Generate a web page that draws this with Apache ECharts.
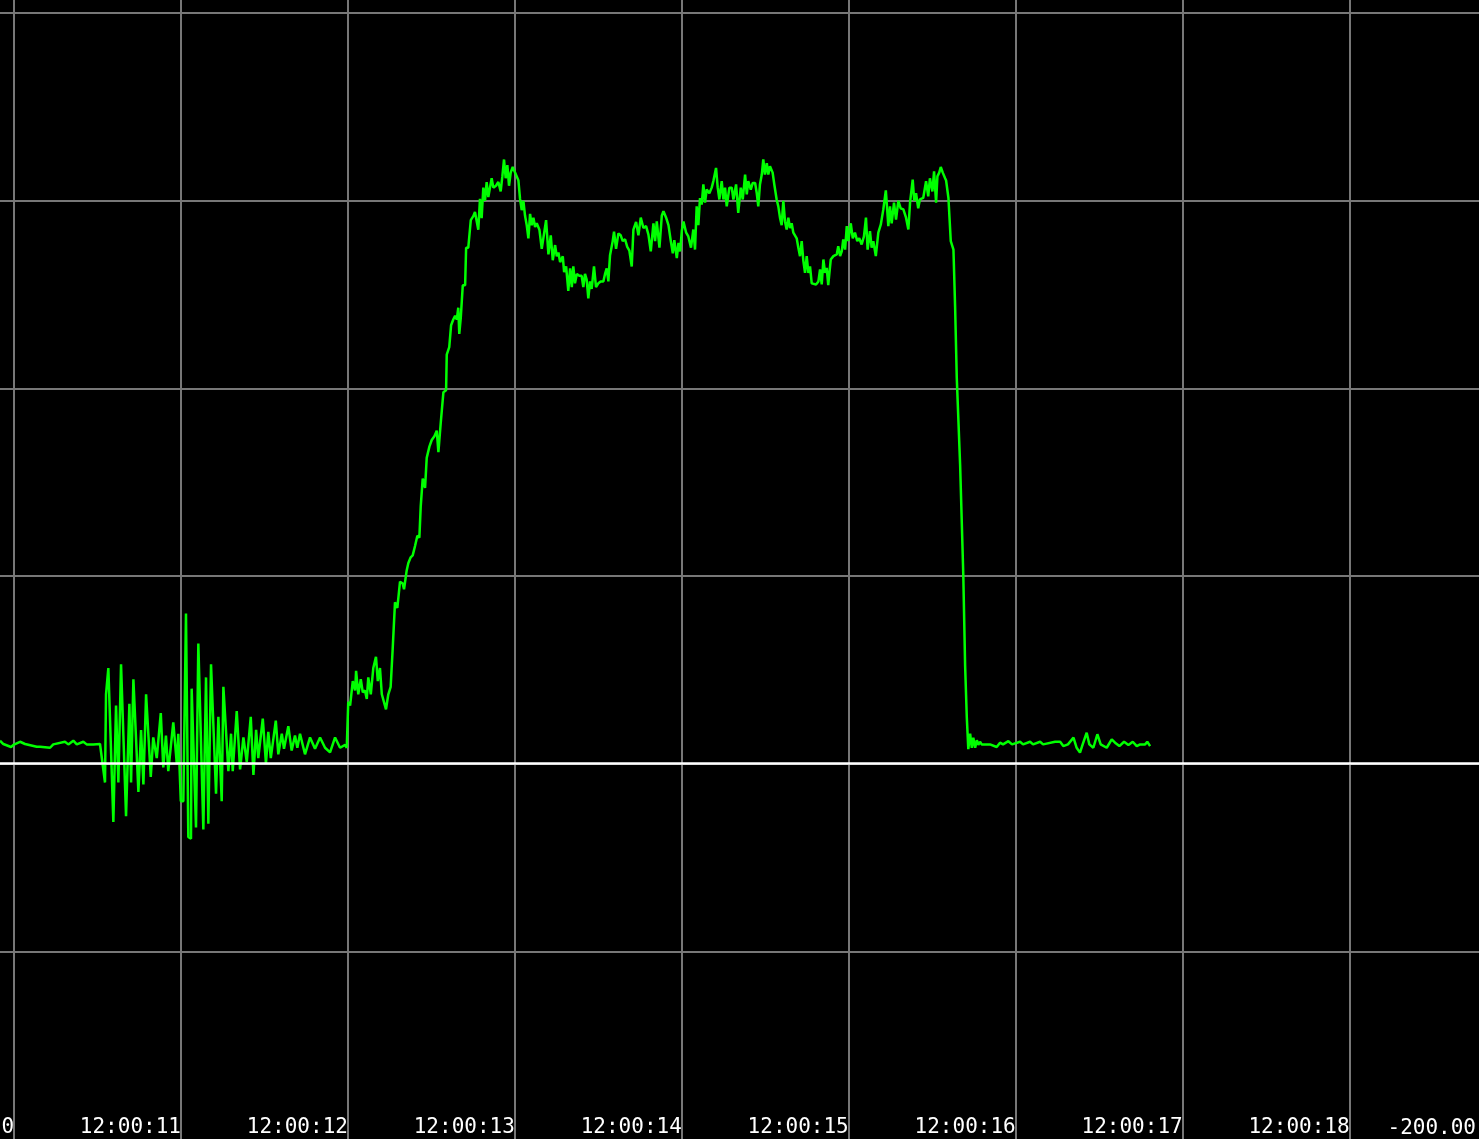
<!DOCTYPE html>
<html>
<head>
<meta charset="utf-8">
<script src="https://cdn.jsdelivr.net/npm/echarts@6/dist/echarts.min.js"></script>
<style>
html, body { margin: 0; padding: 0; background: #000; }
#chart { width: 1479px; height: 1139px; }
</style>
</head>
<body>
<div id="chart"></div>
<script>
// time origin of the capture: 12:00:10.000, samples are [ms after origin, value]
const startTime = new Date(2024, 0, 1, 12, 0, 10).getTime();
const viewStartMs = -84;
const viewEndMs = 8775;

const yMin = -200;
const yMax = 407;
const yStep = 100;

const preTrigger = [[-84,12.3],[-64,10.5],[-18,8.9],[-4,10],[36,11.7],[66,10.5],[136,9],[156,9],[216,8.5],[235,10.3],[305,11.7],[325,10.3],[355,12.3],[376,10.3],[415,11.7],[435,10.3],[475,10.3],[515,10.5],[525,10]];

const burst = [[545,-10],[551,37],[565,51],[595,-31],[611,31],[625,-10],[641,53],[671,-28],[691,32],[701,-10],[715,45],[745,-15],[761,18],[775,-11],[791,37],[819,-7],[834,14],[855,3],[879,27],[894,-2],[910,15],[924,-4],[954,22],[975,0],[984,16],[999,-20],[1014,-20],[1030,80],[1044,-39],[1060,-40],[1064,40],[1090,-34],[1104,64],[1134,-35],[1150,46],[1164,-32],[1180,53],[1210,-16],[1224,25],[1244,-20],[1254,41],[1284,-4],[1300,16],[1310,-4],[1334,28],[1354,-3],[1374,14],[1394,1],[1418,25],[1434,-6],[1450,18],[1463,3],[1490,24],[1509,0],[1523,17],[1538,3],[1568,23],[1583,5],[1604,16],[1617,8],[1643,20],[1663,7],[1683,15],[1697,8.5],[1713,16],[1743,5],[1773,14],[1803,8],[1833,14],[1863,8.5],[1893,6],[1923,14],[1953,8.5],[1983,10],[1993,8.5]];

const ramp = [[2002,33],[2013,31],[2029,44],[2043,39],[2049,49.5],[2062,37],[2077,45],[2089,38],[2102,39],[2113,34.5],[2122,46],[2137,37],[2152,51],[2168,57],[2179,44],[2192,51],[2203,37],[2212,37],[2228,29],[2242,37],[2256,41],[2268,61],[2282,86],[2296,83],[2312,97],[2328,96],[2336,93],[2352,103],[2362,107],[2376,110],[2388,111],[2402,116],[2416,121.5],[2428,120.5],[2436,137],[2448,152],[2462,147],[2472,163],[2488,169],[2502,172.5],[2518,174.5],[2532,177.5],[2542,166],[2556,181.7],[2572,198],[2588,199],[2592,218],[2607,222],[2618,233.7],[2631,236.7],[2642,238.7],[2652,236.7],[2661,243],[2667,229],[2676,237.7],[2688,255],[2702,255],[2708,275],[2721,275],[2736,289.7],[2751,291.8],[2761,294],[2771,294],[2781,284.6],[2791,301],[2801,290.7],[2811,307],[2821,300],[2831,310],[2841,302],[2851,307],[2861,312],[2871,307],[2887,308],[2901,310],[2915,305],[2925,313],[2935,322],[2945,312],[2955,319],[2965,308],[2975,315],[2987,318],[3001,315],[3021,311]];

const plateau = [[3031,301],[3041,295],[3051,300],[3061,292],[3071,287],[3081,280],[3091,293],[3101,287],[3111,291],[3121,286],[3131,288],[3147,284.6],[3161,274.4],[3175,282.6],[3187,289.7],[3201,271.4],[3215,281.6],[3227,268.3],[3241,276.4],[3251,270.4],[3261,272.4],[3271,267.3],[3287,270.4],[3295,262],[3307,265],[3320,252],[3331,264],[3341,254],[3350,265],[3360,256],[3371,261],[3386,260],[3400,260],[3410,254],[3420,261],[3430,258],[3440,248],[3450,257],[3460,253],[3474,265],[3486,254],[3500,256],[3514,257],[3530,257],[3540,261],[3550,264],[3560,257],[3570,271],[3586,278.5],[3594,283.6],[3606,274.4],[3620,282.6],[3634,281.6],[3646,278.5],[3660,279.5],[3673,275.4],[3686,273.4],[3700,265],[3710,284.6],[3726,288.7],[3740,281.6],[3754,291],[3770,285.5],[3786,286.5],[3800,282],[3814,273],[3830,288],[3840,278.5],[3850,289],[3866,275],[3880,292],[3890,294.5],[3906,291],[3920,287],[3934,278.5],[3946,272],[3955,279],[3970,269.5],[3980,277.5],[3990,273],[4000,284],[4010,289],[4026,283],[4039,281],[4055,275],[4069,284.7],[4079,274],[4089,297],[4099,287],[4109,301.5],[4119,298],[4129,308.7],[4139,299],[4149,306],[4165,304],[4179,307],[4189,310.5],[4205,317.5],[4215,307],[4225,300.7],[4239,310.5],[4249,300.7],[4259,307],[4269,297],[4285,307],[4299,307],[4309,300.7],[4325,308.7],[4338,293.5],[4353,307],[4365,300.7],[4379,314],[4389,303.4],[4398,310.5],[4413,306],[4425,309.5],[4439,309.5],[4449,304],[4458,297],[4468,308.7],[4479,314],[4488,322],[4498,314],[4509,320],[4518,314],[4528,318.4],[4544,315],[4554,308.7],[4568,300.7],[4578,297],[4588,291],[4598,287],[4608,300],[4618,289],[4628,284.7],[4638,291],[4648,285.5],[4658,288],[4668,283],[4678,282],[4688,280],[4698,275],[4708,270.5],[4718,278.5],[4728,268],[4738,261.6],[4748,270.5],[4758,261.6],[4768,265],[4778,256],[4788,255.4],[4804,255.4],[4818,257],[4828,263.4],[4838,255.4],[4848,268.7],[4858,261.6],[4868,264.3],[4877,255],[4892,268.7],[4908,270.5],[4928,271.4],[4937,275.8],[4948,270.5],[4958,273],[4967,279.4],[4978,274],[4988,286.5],[4997,278.5],[5012,288],[5024,280],[5037,283],[5051,278.5],[5063,280],[5077,276.7],[5091,281],[5103,291],[5113,274],[5127,283.8],[5137,275],[5147,278.5],[5162,270.5],[5177,283],[5192,287.4],[5207,295.4],[5222,305.5],[5237,286.5],[5247,297],[5257,288],[5271,299],[5283,290],[5297,300],[5311,296],[5327,295.4],[5343,291],[5357,284.7],[5367,299],[5383,311.3],[5392,300],[5403,304],[5416,296],[5426,300.7],[5446,301.5],[5463,310.4],[5476,302.4],[5486,312],[5501,305],[5511,315.7],[5523,299],[5531,313],[5542,315],[5551,318],[5563,315],[5577,312],[5583,310.8]];

const release = [[5597,301.5],[5611,278.5],[5627,274],[5637,243.4],[5647,205.5],[5667,159.3],[5686,100.4],[5697,52],[5707,24.7],[5716,7.8],[5727,16],[5737,8.5],[5746,13.9],[5757,8.5],[5767,12.5],[5776,10],[5786,11.7],[5796,10.3]];

const tail = [[5846,10.3],[5886,8.9],[5906,11.2],[5924,10.3],[5956,12],[5978,10.3],[6026,11.7],[6044,10.3],[6086,11.7],[6104,10.3],[6146,11.7],[6164,10.3],[6236,11.7],[6266,11.7],[6285,9.4],[6313,10.3],[6346,13.9],[6365,8.5],[6385,5.9],[6401,10.3],[6425,16.5],[6441,10.3],[6465,8.5],[6489,15.7],[6509,10.3],[6545,8.5],[6575,13],[6595,11.2],[6621,9.4],[6649,11.7],[6675,10],[6701,11.7],[6725,9.4],[6745,10.3],[6775,10.3],[6788,11.7],[6805,9.4]];

const samples = [].concat(preTrigger, burst, ramp, plateau, release, tail)
    .map(p => [startTime + p[0], p[1]]);

function pad(n) {
    return n < 10 ? '0' + n : '' + n;
}
function timeLabel(val) {
    const d = new Date(val);
    return pad(d.getHours()) + ':' + pad(d.getMinutes()) + ':' + pad(d.getSeconds());
}

const gridLine = { show: true, showMinLine: false, showMaxLine: false, lineStyle: { color: '#777', width: 2 } };
const labelFont = { color: '#fff', fontFamily: 'DejaVu Sans Mono', fontSize: 21 };

const chart = echarts.init(document.getElementById('chart'));
chart.setOption({
    backgroundColor: '#000',
    animation: false,
    grid: { left: 0, right: 0, top: 0, bottom: 0, containLabel: false, outerBoundsMode: 'none' },
    xAxis: {
        type: 'time',
        min: startTime + viewStartMs,
        max: startTime + viewEndMs,
        minInterval: 1000,
        maxInterval: 1000,
        axisLine: { show: false },
        axisTick: { show: false },
        splitLine: gridLine,
        axisLabel: Object.assign({
            inside: true,
            align: 'right',
            verticalAlign: 'bottom',
            margin: 1,
            showMinLabel: false,
            showMaxLabel: false,
            formatter: timeLabel
        }, labelFont)
    },
    yAxis: {
        type: 'value',
        position: 'right',
        min: yMin,
        max: yMax,
        interval: yStep,
        axisLine: { show: false },
        axisTick: { show: false },
        splitLine: gridLine,
        axisLabel: Object.assign({
            inside: true,
            margin: 3,
            verticalAlign: 'bottom',
            formatter: v => (v === yMin ? v.toFixed(2) : '')
        }, labelFont)
    },
    series: [{
        type: 'line',
        data: samples,
        symbol: 'none',
        lineStyle: { color: '#00ff00', width: 2.5 },
        itemStyle: { color: '#00ff00' },
        markLine: {
            silent: true,
            symbol: 'none',
            label: { show: false },
            lineStyle: { color: '#fff', width: 2.5, type: 'solid' },
            data: [{ yAxis: 0 }]
        }
    }]
});
</script>
</body>
</html>
